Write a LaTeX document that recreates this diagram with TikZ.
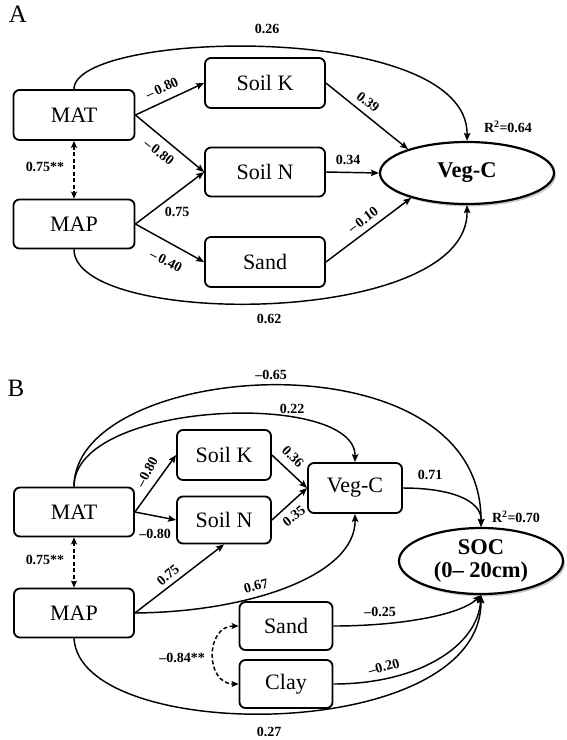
\documentclass[tikz,border=0pt]{standalone}
\usepackage{fontspec}
\setmainfont{Liberation Serif}
\usetikzlibrary{arrows.meta,shapes.geometric,shadows}
\begin{document}
\begin{tikzpicture}[x=1pt,y=1pt,
  box/.style={draw, line width=1.8pt, rounded corners=6pt, inner sep=0pt,
    font=\fontsize{22}{22}\selectfont},
  oval/.style={draw, ellipse, line width=2.2pt, inner sep=0pt, fill=white,
    font=\bfseries\fontsize{22.5}{23}\selectfont, align=center,
    drop shadow={shadow xshift=2pt, shadow yshift=-2.5pt, fill=black!40, opacity=.5}},
  lbl/.style={font=\bfseries\fontsize{14}{14}\selectfont, inner sep=0pt},
  panel/.style={font=\fontsize{25}{25}\selectfont, inner sep=0pt},
  arr/.style={-{Stealth[length=8pt,width=6.5pt,inset=1.5pt]}, line width=1.45pt},
  dasharr/.style={{Stealth[length=7pt,width=6pt,inset=1.5pt]}-{Stealth[length=7pt,width=6pt,inset=1.5pt]},
    line width=1.5pt, dash pattern=on 4pt off 2.5pt}
]
\useasboundingbox (0,0) rectangle (566,-740);

% ---------------- Panel A ----------------
\node[panel] (labA) at (18,-14) {A};
\node[box, minimum width=121pt, minimum height=50pt] (MATa) at (74,-115) {MAT};
\node[box, minimum width=121pt, minimum height=49pt] (MAPa) at (74,-224) {MAP};
\node[box, minimum width=120pt, minimum height=50pt] (SoilKa) at (265,-83) {Soil K};
\node[box, minimum width=120pt, minimum height=49pt] (SoilNa) at (265,-172) {Soil N};
\node[box, minimum width=120pt, minimum height=50pt] (Sanda) at (265,-262) {Sand};
\node[oval, minimum width=174pt, minimum height=62pt] (VegA) at (467,-173) {Veg-C};

\draw[dasharr] (MATa.south) -- (MAPa.north);
\draw[arr] (MATa.east) -- (SoilKa.west);
\draw[arr] (MATa.east) -- (SoilNa.west);
\draw[arr] (MAPa.east) -- (SoilNa.west);
\draw[arr] (MAPa.east) -- (Sanda.west);
\draw[arr] (SoilKa.east) -- (VegA.158);
\draw[arr] (SoilNa.east) -- (VegA.west);
\draw[arr] (Sanda.east) -- (VegA.204);
\draw[arr] (MATa.north) .. controls (74,-30) and (469,-20) .. (VegA.north);
\draw[arr] (MAPa.south) .. controls (74,-328) and (469,-328) .. (VegA.south);

\node[lbl] (a026) at (267,-29) {0.26};
\node[lbl] (a062) at (269,-319) {0.62};
\node[lbl] (aR2) at (508,-127) {R\textsuperscript{2}=0.64};
\node[lbl] (a075s) at (45,-167) {0.75**};
\node[lbl, rotate=24] (a080a) at (162,-88) {–\,0.80};
\node[lbl, rotate=-38] (a080b) at (159,-152) {–\,0.80};
\node[lbl] (a075) at (177,-212) {0.75};
\node[lbl, rotate=-27] (a040) at (166,-261) {–\,0.40};
\node[lbl, rotate=-38] (a039) at (368,-102) {0.39};
\node[lbl] (a034) at (348,-160) {0.34};
\node[lbl, rotate=37] (a010) at (363,-220) {–\,0.10};

% ---------------- Panel B ----------------
\node[panel] (labB) at (16,-388) {B};
\node[box, minimum width=120pt, minimum height=49pt] (MATb) at (74,-512) {MAT};
\node[box, minimum width=120pt, minimum height=49pt] (MAPb) at (74,-613) {MAP};
\node[box, minimum width=94pt, minimum height=50pt] (SoilKb) at (224,-455) {Soil K};
\node[box, minimum width=94pt, minimum height=47pt] (SoilNb) at (224,-520) {Soil N};
\node[box, minimum width=94pt, minimum height=50pt] (VegB) at (355,-488) {Veg-C};
\node[box, minimum width=93pt, minimum height=48pt] (Sandb) at (286,-626) {Sand};
\node[box, minimum width=93pt, minimum height=48pt] (Clayb) at (286,-684) {Clay};
\node[oval, minimum width=164pt, minimum height=66pt] (SOC) at (481,-561) {SOC\\(0– 20cm)};

\draw[dasharr] (MATb.south) -- (MAPb.north);
\draw[arr] (MATb.north) .. controls (74,-360) and (482,-330) .. (SOC.north);
\draw[arr] (MATb.north) .. controls (74,-400) and (356,-390) .. (VegB.north);
\draw[arr] (MATb.east) -- (SoilKb.west);
\draw[arr] (MATb.east) -- (SoilNb.west);
\draw[arr] (SoilKb.east) -- (VegB.west);
\draw[arr] (SoilNb.east) -- (VegB.west);
\draw[arr] (VegB.east) .. controls (450,-488) and (482,-500) .. (SOC.north);
\draw[arr] (MAPb.east) -- (SoilNb.south);
\draw[arr] (MAPb.east) .. controls (250,-612) and (356,-575) .. (VegB.south);
\draw[arr] (Sandb.east) .. controls (400,-626) and (460,-615) .. (SOC.south);
\draw[arr] (Clayb.east) .. controls (420,-684) and (478,-645) .. (SOC.south);
\draw[arr] (MAPb.south) .. controls (80,-745) and (482,-745) .. (SOC.south);
\draw[dasharr] (Sandb.west) .. controls (205,-626) and (205,-684) .. (Clayb.west);

\node[lbl] (b065) at (271,-375) {–0.65};
\node[lbl] (b022) at (292,-409) {0.22};
\node[lbl, rotate=62] (b080a) at (147,-472) {–0.80};
\node[lbl] (b080b) at (155,-534) {–0.80};
\node[lbl, rotate=-45] (b036) at (293,-457) {0.36};
\node[lbl, rotate=38] (b035) at (294,-516) {0.35};
\node[lbl] (b071) at (430,-475) {0.71};
\node[lbl] (bR2) at (516,-517) {R\textsuperscript{2}=0.70};
\node[lbl] (b075s) at (45,-560) {0.75**};
\node[lbl, rotate=40] (b075) at (168,-575) {0.75};
\node[lbl, rotate=15] (b067) at (256,-586) {0.67};
\node[lbl] (b025) at (380,-612) {–0.25};
\node[lbl] (b084) at (182,-658) {–0.84**};
\node[lbl, rotate=15] (b020) at (384,-667) {–0.20};
\node[lbl] (b027) at (269,-732) {0.27};
\end{tikzpicture}
\end{document}
